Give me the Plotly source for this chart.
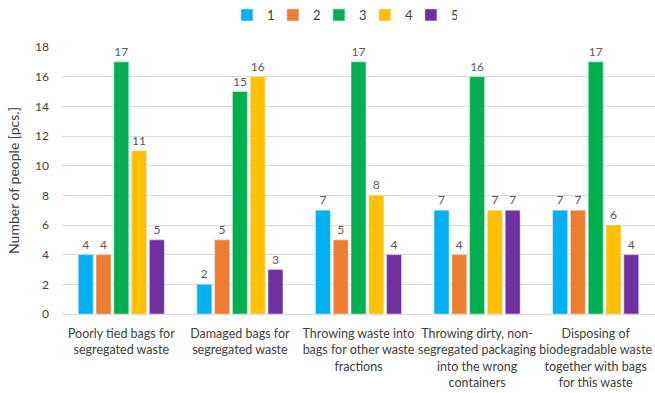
import plotly.graph_objects as go

categories = [
    "Poorly tied bags for<br>segregated waste",
    "Damaged bags for<br>segregated waste",
    "Throwing waste into<br>bags for other waste<br>fractions",
    "Throwing dirty, non-<br>segregated packaging<br>into the wrong<br>containers",
    "Disposing of<br>biodegradable waste<br>together with bags<br>for this waste",
]
series_names = ["1", "2", "3", "4", "5"]
s1 = [4, 2, 7, 7, 7]
s2 = [4, 5, 5, 4, 7]
s3 = [17, 15, 17, 16, 17]
s4 = [11, 16, 8, 7, 6]
s5 = [5, 3, 4, 7, 4]
y_ticks = [0, 2, 4, 6, 8, 10, 12, 14, 16, 18]

colors = ["#00B0F0", "#ED7D31", "#00B050", "#FFC000", "#7030A0"]
font_family = "Lato, 'Open Sans', sans-serif"

fig = go.Figure()
for name, vals, col in zip(series_names, [s1, s2, s3, s4, s5], colors):
    fig.add_trace(go.Bar(
        name=name, x=categories, y=vals, marker_color=col,
        text=vals, textposition="outside", cliponaxis=False,
        textfont=dict(size=12, color="#595959", family=font_family),
    ))

fig.update_layout(
    width=655, height=393,
    margin=dict(l=62, r=0, t=47, b=79),
    plot_bgcolor="white", paper_bgcolor="white",
    barmode="group", bargap=0.25, bargroupgap=0.16,
    font=dict(family=font_family, size=12, color="#404040"),
    legend=dict(orientation="h", x=0.472, xanchor="center", y=1.0, yanchor="top",
                yref="container", font=dict(size=13, color="#404040"),
                itemwidth=30, entrywidth=1, entrywidthmode="pixels",
                tracegroupgap=0),
    showlegend=True,
)
fig.update_xaxes(showline=True, linecolor="#D9D9D9", linewidth=1, ticks="",
                 ticklabelstandoff=8,
                 tickfont=dict(size=12.5, color="#404040"))
fig.update_yaxes(range=[0, 18], tickvals=y_ticks, showgrid=True, gridcolor="#D9D9D9",
                 zeroline=False, ticks="", ticklabelstandoff=12,
                 tickfont=dict(size=12, color="#404040"),
                 title=dict(text="Number of people [pcs.]", font=dict(size=14, color="#404040"),
                            standoff=12))

fig.write_html("out.html")
